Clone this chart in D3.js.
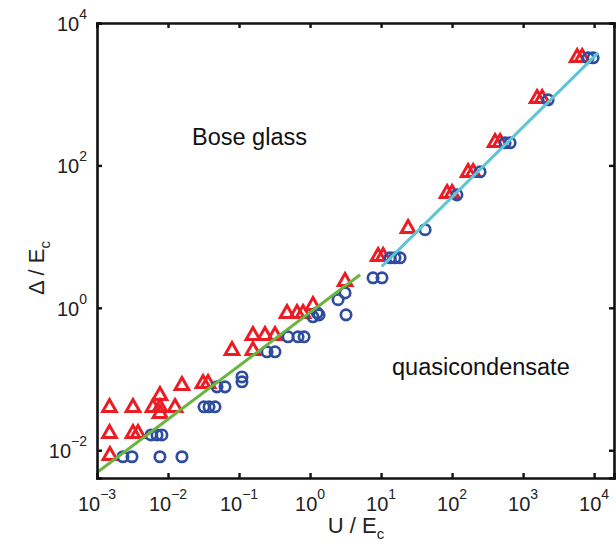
<!DOCTYPE html>
<html><head><meta charset="utf-8">
<script src="https://cdn.jsdelivr.net/npm/d3@7/dist/d3.min.js"></script>
<style>body{margin:0;background:#fff;}svg{display:block;font-family:"Liberation Sans",Arial,sans-serif;}</style>
</head><body>
<svg id="c" width="616" height="546"></svg>
<script>
// Red triangles: [U/Ec, Δ/Ec]
const triU = [0.00152,0.0015,0.0015,0.00321,0.00321,0.00378,0.00615,0.0077,0.0077,0.0077,0.01256,0.0157,0.0311,0.0366,
  0.0796,0.157,0.157,0.232,0.321,0.474,0.656,0.797,1.10,3.11,9.08,10.7,24.0,85,100,168,198,403,475,1574,1853,5770,6780];
const triD = [0.0086,0.0176,0.0407,0.0407,0.0176,0.0176,0.0407,0.0407,0.060,0.0335,0.0407,0.083,0.0885,0.0885,
  0.257,0.257,0.418,0.418,0.418,0.851,0.851,0.851,1.10,2.39,5.37,5.37,13.3,41.2,41.2,81.3,81.3,214,214,890,890,3350,3350];
// Blue circles
const cirU = [0.00232,0.00311,0.0077,0.0157,0.00577,0.0070,0.0082,0.0321,0.0378,0.0459,0.049,0.0635,0.110,0.110,
  0.248,0.321,0.490,0.678,0.823,1.10,1.26,1.34,2.48,3.11,3.21,7.71,10.3,13.4,15.7,18.5,41.7,117,248,557,656,2250,8220,9680];
const cirD = [0.0081,0.0081,0.0081,0.0081,0.0164,0.0164,0.0164,0.0407,0.0407,0.0407,0.0777,0.0777,0.107,0.0914,
  0.241,0.241,0.392,0.392,0.392,0.748,0.851,0.797,1.30,1.62,0.797,2.64,2.64,5.04,5.04,5.04,12.5,38.6,81.3,208,208,834,3245,3245];
// Fit lines
const greenU = [0.001, 5.06], greenD = [0.00486, 2.91];
const cyanU = [10.2, 11380], cyanD = [3.8, 3800];
// Ticks
const xTicks = [-3,-2,-1,0,1,2,3,4];
const yTicks = [-2,0,2,4];
const texts = [{t:"Bose glass"}, {t:"quasicondensate"}];

const svg = d3.select("#c");
const L=97, R=614, T=23, B=478;
const x = d3.scaleLog().domain([1e-3, Math.pow(10,4.28)]).range([L,R]);
const y = d3.scaleLog().domain([Math.pow(10,-2.39), 1e4]).range([B,T]);

const red="#ec1c24", blue="#2e4d9f", green="#6bb43f", cyan="#5ec4d6";

const g = svg.append("g");
// triangles
const triPath = "M0,-7.3L6.8,4.7L-6.8,4.7Z";
g.selectAll("path.tri").data(triU.map((u,i)=>[u,triD[i]])).enter().append("path")
  .attr("class","tri").attr("d",triPath)
  .attr("transform",d=>`translate(${x(d[0])},${y(d[1])})`)
  .attr("fill","none").attr("stroke",red).attr("stroke-width",3).attr("stroke-linejoin","miter");
// circles
g.selectAll("circle").data(cirU.map((u,i)=>[u,cirD[i]])).enter().append("circle")
  .attr("cx",d=>x(d[0])).attr("cy",d=>y(d[1])).attr("r",5.2)
  .attr("fill","none").attr("stroke",blue).attr("stroke-width",2.7);
// lines
const line = d3.line().x(d=>x(d[0])).y(d=>y(d[1]));
g.append("path").attr("d",line(greenU.map((u,i)=>[u,greenD[i]]))).attr("stroke",green).attr("stroke-width",3).attr("fill","none");
g.append("path").attr("d",line(cyanU.map((u,i)=>[u,cyanD[i]]))).attr("stroke",cyan).attr("stroke-width",3).attr("fill","none");

// axes box
const ax = svg.append("g");
ax.append("g").attr("transform",`translate(0,${B})`).call(d3.axisBottom(x).tickValues(xTicks.map(e=>Math.pow(10,e))).tickSize(-5).tickFormat(""));
ax.append("g").attr("transform",`translate(0,${T})`).call(d3.axisTop(x).tickValues(xTicks.map(e=>Math.pow(10,e))).tickSize(-5).tickFormat(""));
ax.append("g").attr("transform",`translate(${L},0)`).call(d3.axisLeft(y).tickValues(yTicks.map(e=>Math.pow(10,e))).tickSize(-5).tickFormat(""));
ax.append("g").attr("transform",`translate(${R},0)`).call(d3.axisRight(y).tickValues(yTicks.map(e=>Math.pow(10,e))).tickSize(-5).tickFormat(""));
ax.selectAll(".domain").attr("stroke","#111").attr("stroke-width",2.6);
ax.selectAll(".tick line").attr("stroke","#111").attr("stroke-width",2.4);

// x tick labels
xTicks.forEach(e=>{
  const t = svg.append("text").attr("x",x(Math.pow(10,e))).attr("y",511).attr("text-anchor","middle").attr("font-size",20).attr("fill","#222");
  t.append("tspan").text("10");
  t.append("tspan").attr("dy",-12).attr("font-size",14).text(e<0?"\u2212"+(-e):""+e);
});
// y tick labels
yTicks.forEach(e=>{
  const t = svg.append("text").attr("x",87).attr("y",y(Math.pow(10,e))+8).attr("text-anchor","end").attr("font-size",20).attr("fill","#222");
  t.append("tspan").text("10");
  t.append("tspan").attr("dy",-12).attr("font-size",14).text(e<0?"\u2212"+(-e):""+e);
});
// axis titles
const xt = svg.append("text").attr("x",356).attr("y",533).attr("text-anchor","middle").attr("font-size",22).attr("fill","#222");
xt.append("tspan").text("U / E");
xt.append("tspan").attr("dy",6).attr("font-size",15).text("c");
const yt = svg.append("text").attr("transform","translate(44,268) rotate(-90)").attr("text-anchor","middle").attr("font-size",22).attr("fill","#222");
yt.append("tspan").text("\u0394 / E");
yt.append("tspan").attr("dy",6).attr("font-size",15).text("c");
// region labels
svg.append("text").attr("x",192).attr("y",145).attr("font-size",23.5).attr("fill","#111").text(texts[0].t);
svg.append("text").attr("x",392).attr("y",375).attr("font-size",23.5).attr("fill","#111").text(texts[1].t);
</script>
</body></html>
